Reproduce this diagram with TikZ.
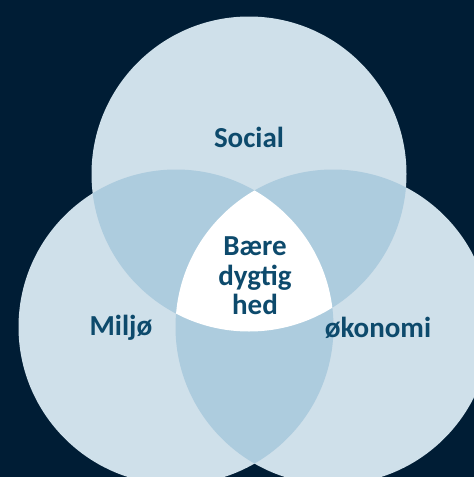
\documentclass[tikz,border=0pt]{standalone}
\usepackage{fontspec}
\setmainfont{Carlito}
\definecolor{navy}{HTML}{001D35}
\definecolor{ringfill}{HTML}{CFE0EA}
\definecolor{overlap}{HTML}{ADCCDE}
\definecolor{textblue}{HTML}{0D4A6C}
\tikzset{
  areatext/.style={text=textblue, font=\bfseries\fontsize{29}{29.5}\selectfont,
                   align=center, inner sep=0pt},
  ring/.style={fill=ringfill},
  pair/.style={fill=overlap}
}

\begin{document}
\begin{tikzpicture}[x=1pt, y=-1pt]

        % --- Background
        \fill[navy] (0,0) rectangle (474,477);
        \useasboundingbox (0,0) rectangle (474,477);
        \clip (0,0) rectangle (474,477);

        % --- Circle centres
        \coordinate (soc) at (249,174);
        \coordinate (mil) at (176,327);
        \coordinate (oko) at (333,327);

        % --- Circles
        \fill[ring] (soc) circle[radius=157.5pt];
        \fill[ring] (mil) circle[radius=157.5pt];
        \fill[ring] (oko) circle[radius=157.5pt];

        % --- Pairwise overlaps
        \begin{scope}
          \clip (soc) circle[radius=157.5pt];
          \fill[pair] (mil) circle[radius=157.5pt];
          \fill[pair] (oko) circle[radius=157.5pt];
        \end{scope}
        \begin{scope}
          \clip (mil) circle[radius=157.5pt];
          \fill[pair] (oko) circle[radius=157.5pt];
        \end{scope}

        % --- Centre
        \begin{scope}
          \clip (soc) circle[radius=157.5pt];
          \clip (mil) circle[radius=157.5pt];
          \fill[white] (oko) circle[radius=157.5pt];
        \end{scope}

        % --- Labels
        \node[areatext] (social) at (249,137) {Social};
        \node[areatext] (miljo) at (121,328) {Miljø};
        \node[areatext] (okonomi) at (378,328) {økonomi};
        \node[areatext] (baere) at (255,276) {Bære\\dygtig\\hed};

\end{tikzpicture}
\end{document}
